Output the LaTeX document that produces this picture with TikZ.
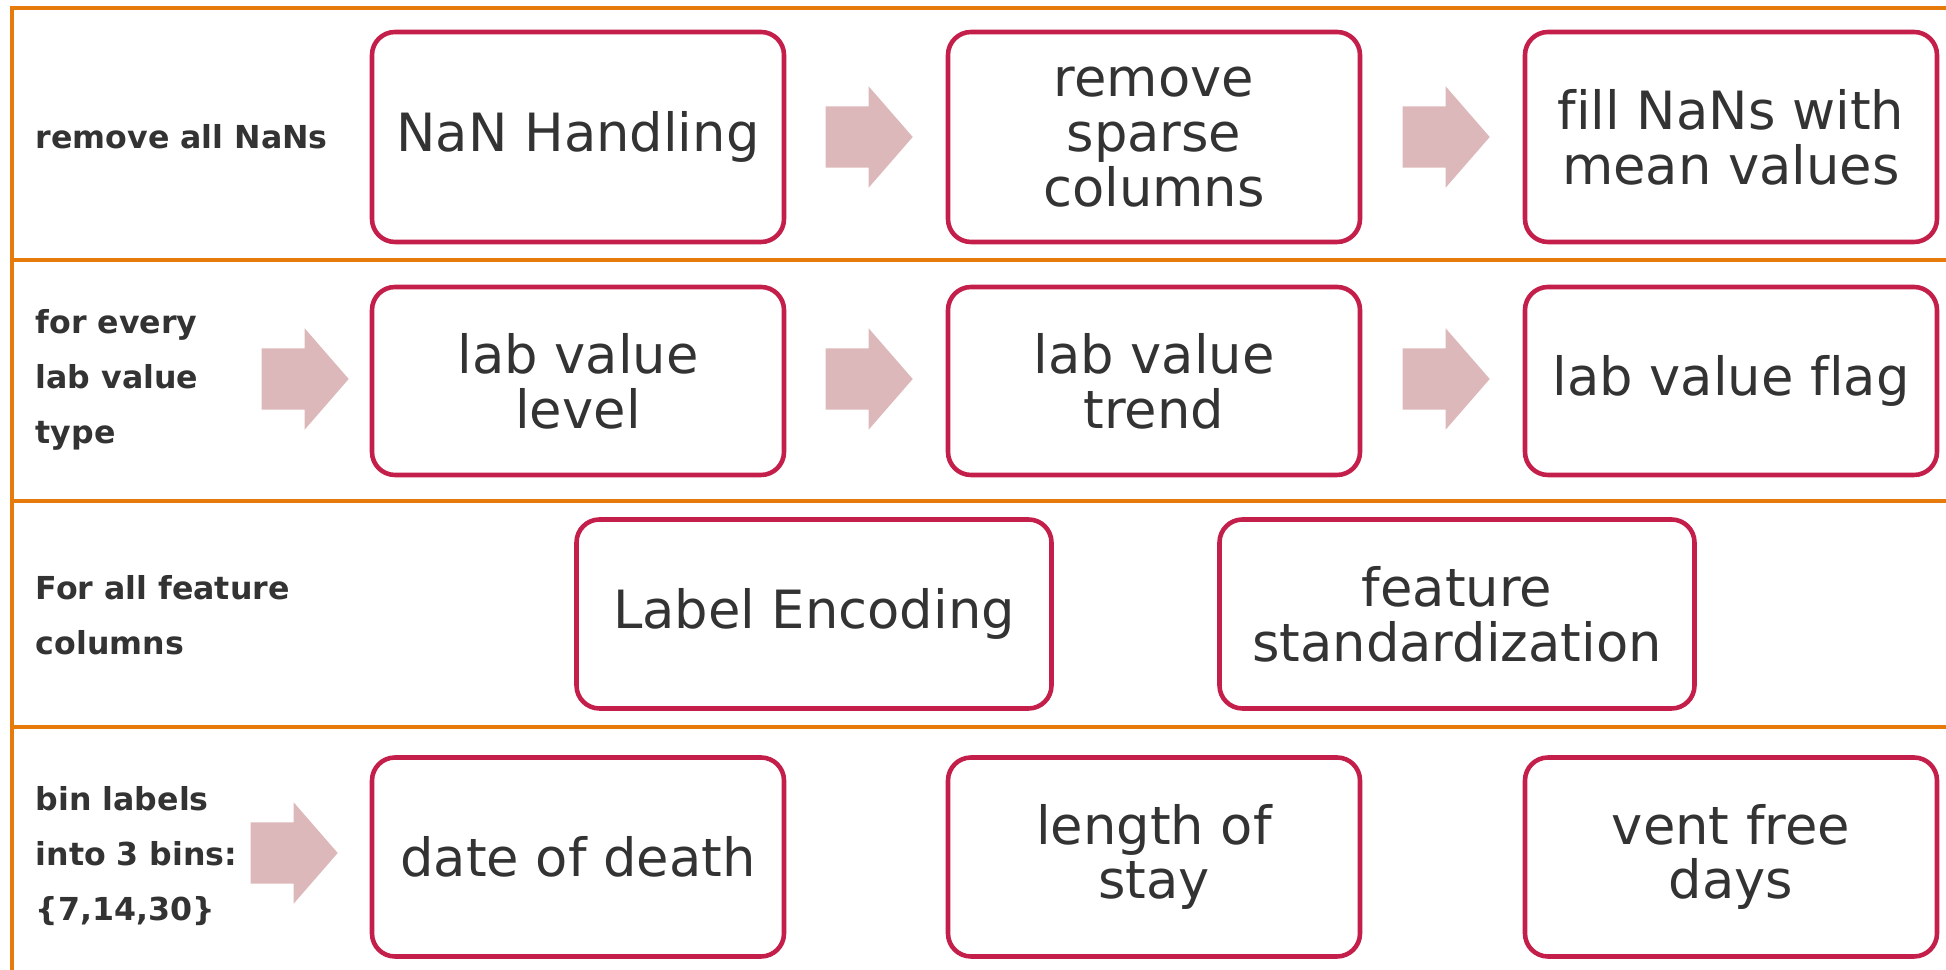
\documentclass[tikz,border=0pt]{standalone}
\usepackage{fontspec}
\setmainfont[Ligatures=NoCommon]{DejaVu Sans}
\usetikzlibrary{shapes.arrows}
\definecolor{rowline}{RGB}{230,122,10}
\definecolor{boxline}{RGB}{196,30,74}
\definecolor{arrowfill}{RGB}{221,184,186}
\definecolor{textgray}{RGB}{51,51,51}

\begin{document}
\begin{tikzpicture}[x=0.1mm,y=-0.1mm,
    stage/.style={draw=boxline,line width=1.3pt,rounded corners=2.3mm,align=center,text=textgray,
      font=\fontsize{15}{15.6}\selectfont,inner sep=0pt},
    rowlabel/.style={anchor=west,align=left,text=textgray,font=\fontsize{9}{15.6}\selectfont\bfseries,inner sep=0pt},
    flow/.style={single arrow,fill=arrowfill,draw=none,anchor=west,minimum height=8.7mm,inner xsep=0pt,inner ysep=3mm,
      single arrow head extend=2mm,single arrow tip angle=98}]
    \useasboundingbox (0,0) rectangle (1946,970);
    % frame of the four rows
    \draw[rowline,line width=1.4pt] (12,970) -- (12,8) -- (1946,8);
    \draw[rowline,line width=1.4pt] (12,260) -- (1946,260);
    \draw[rowline,line width=1.4pt] (12,501) -- (1946,501);
    \draw[rowline,line width=1.4pt] (12,727) -- (1946,727);
    % row 1
    \node[rowlabel] (lab1) at (35,137) {remove all NaNs};
    \node[stage,minimum width=41.2mm,minimum height=21mm] (nan) at (578,137) {NaN Handling};
    \node[stage,minimum width=41.2mm,minimum height=21mm] (sparse) at (1154,137) {remove\\sparse\\columns};
    \node[stage,minimum width=41.2mm,minimum height=21mm] (fill) at (1731,137) {fill NaNs with\\mean values};
    \node[flow] (a11) at (825,137) {};
    \node[flow] (a12) at (1402,137) {};
    % row 2
    \node[rowlabel] (lab2) at (35,380) {for every\\lab value\\type};
    \node[stage,minimum width=41.2mm,minimum height=18.8mm] (level) at (578,381) {lab value\\level};
    \node[stage,minimum width=41.2mm,minimum height=18.8mm] (trend) at (1154,381) {lab value\\trend};
    \node[stage,minimum width=41.2mm,minimum height=18.8mm] (flag) at (1731,381) {lab value flag};
    \node[flow] (a20) at (261,379) {};
    \node[flow] (a21) at (825,379) {};
    \node[flow] (a22) at (1402,379) {};
    % row 3
    \node[rowlabel] (lab3) at (35,615) {For all feature\\columns};
    \node[stage,minimum width=47.5mm,minimum height=18.9mm] (enc) at (814,614) {Label Encoding};
    \node[stage,minimum width=47.5mm,minimum height=18.9mm] (std) at (1457,614) {feature\\standardization};
    % row 4
    \node[rowlabel] (lab4) at (35,856) {bin labels\\into 3 bins:\\\{7,14,30\}};
    \node[stage,minimum width=41.2mm,minimum height=19.9mm] (death) at (578,857) {date of death};
    \node[stage,minimum width=41.2mm,minimum height=19.9mm] (stay) at (1154,857) {length of\\stay};
    \node[stage,minimum width=41.2mm,minimum height=19.9mm] (vent) at (1731,857) {vent free\\days};
    \node[flow] (a40) at (250,853) {};
\end{tikzpicture}
\end{document}
